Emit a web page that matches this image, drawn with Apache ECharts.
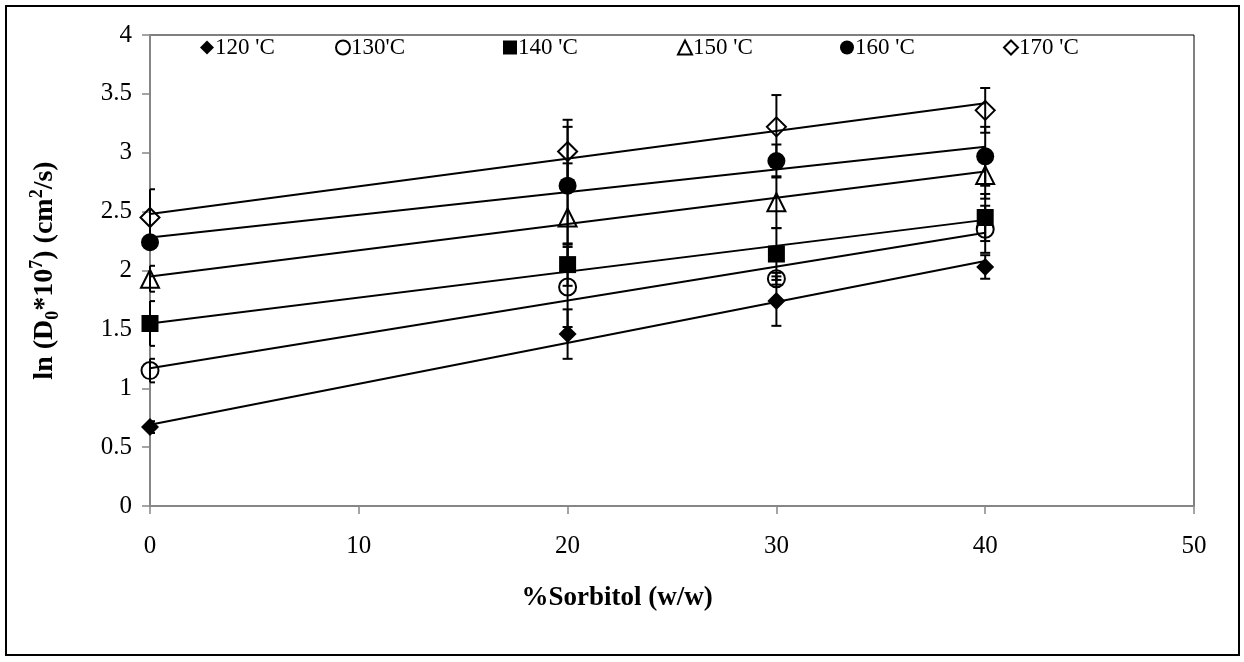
<!DOCTYPE html>
<html>
<head>
<meta charset="utf-8">
<script src="https://cdn.jsdelivr.net/npm/echarts/dist/echarts.min.js"></script>
<style>
	body{ margin:0; background:#fff; }
	#frame{ position:absolute; left:5px; top:5px; width:1231px; height:647px; border:2px solid #000; }
	#chart{ position:absolute; left:0; top:0; width:1244px; height:662px; }
</style>
</head>
<body>
<div id="frame"></div>
<div id="chart"></div>
<script>
	"use strict";
	var FONT = '"Liberation Serif", "Times New Roman", serif';

	// ---------------- data ----------------
	var xVals = [0, 20, 30, 40];
	var names = ["120 'C", "130'C", "140 'C", "150 'C", "160 'C", "170 'C"];

	var y120 = [0.67, 1.46, 1.74, 2.03];
	var y130 = [1.15, 1.86, 1.93, 2.35];
	var y140 = [1.55, 2.05, 2.14, 2.45];
	var y150 = [1.93, 2.45, 2.58, 2.81];
	var y160 = [2.24, 2.72, 2.93, 2.97];
	var y170 = [2.45, 3.01, 3.22, 3.36];

	// +/- error for each point
	var e120 = [0.05, 0.21, 0.21, 0.10];
	var e130 = [0.10, 0.34, 0.05, 0.20];
	var e140 = [0.19, 0.18, 0.22, 0.20];
	var e150 = [0.11, 0.46, 0.22, 0.20];
	var e160 = [0.05, 0.50, 0.14, 0.25];
	var e170 = [0.24, 0.27, 0.27, 0.19];

	// linear trend lines, value at x=0 and x=40
	var trendX = [0, 40];
	var t120 = [0.69, 2.08];
	var t130 = [1.17, 2.32];
	var t140 = [1.55, 2.43];
	var t150 = [1.95, 2.84];
	var t160 = [2.28, 3.05];
	var t170 = [2.48, 3.42];

	var xTicks = { min: 0, max: 50, interval: 10 };
	var yTicks = { min: 0, max: 4, interval: 0.5 };

	// ---------------- styles ----------------
	var allY = [y120, y130, y140, y150, y160, y170];
	var allE = [e120, e130, e140, e150, e160, e170];
	var allT = [t120, t130, t140, t150, t160, t170];
	var symbols = ['diamond', 'circle', 'rect', 'triangle', 'circle', 'diamond'];
	var sizes = [18, 17, 17, 18, 18, 19];
	var hollow = [false, true, false, true, false, true];
	var legendLeft = [195, 330, 498, 672, 835, 998];

	function zip(xs, ys){ return xs.map(function(x, i){ return [x, ys[i]]; }); }

	//误差线，左端裁到绘图区内
	function renderErr(params, api){
		var x = api.value(0), y = api.value(1), e = api.value(2);
		var hi = api.coord([x, y + e]), lo = api.coord([x, y - e]), w = 5;
		var left = Math.max(hi[0] - w, params.coordSys.x);
		var st = { stroke: '#000', lineWidth: 2 };
		return { type: 'group', children: [
			{ type: 'line', shape: { x1: hi[0], y1: hi[1], x2: lo[0], y2: lo[1] }, style: st },
			{ type: 'line', shape: { x1: left, y1: hi[1], x2: hi[0] + w, y2: hi[1] }, style: st },
			{ type: 'line', shape: { x1: left, y1: lo[1], x2: lo[0] + w, y2: lo[1] }, style: st }
		]};
	}

	var series = [];
	names.forEach(function(n, i){
		series.push({
			name: 'trend' + i, type: 'line', data: zip(trendX, allT[i]), showSymbol: false,
			lineStyle: { color: '#000', width: 2 }, silent: true, z: 2
		});
		series.push({
			name: 'err' + i, type: 'custom', renderItem: renderErr, z: 3,
			data: xVals.map(function(x, k){ return [x, allY[i][k], allE[i][k]]; })
		});
	});
	names.forEach(function(n, i){
		series.push({
			name: n, type: 'scatter', data: zip(xVals, allY[i]), z: 4,
			symbol: symbols[i], symbolSize: sizes[i],
			itemStyle: hollow[i]
				? { color: 'rgba(0,0,0,0)', borderColor: '#000', borderWidth: 2, opacity: 1 }
				: { color: '#000', borderColor: '#000', borderWidth: 0, opacity: 1 }
		});
	});

	var legends = names.map(function(n, i){
		return {
			data: [n], left: legendLeft[i], top: 31, itemWidth: 14, itemHeight: 14, itemGap: 2,
			selectedMode: false,
			textStyle: { fontFamily: FONT, fontSize: 23, color: '#000', padding: [0, 0, 0, -4] }
		};
	});

	var axisCommon = {
		type: 'value',
		axisLine: { lineStyle: { color: '#868686', width: 2 } },
		axisTick: { show: true, length: 8, lineStyle: { color: '#868686', width: 1.5 } },
		splitLine: { show: false },
		axisLabel: { fontFamily: FONT, fontSize: 25, color: '#000' },
		nameTextStyle: { fontFamily: FONT, fontSize: 27, fontWeight: 'bold', color: '#000' }
	};

	var option = {
		animation: false,
		grid: { left: 150, right: 50, top: 35, bottom: 156, show: true, borderColor: '#000', borderWidth: 1 },
		legend: legends,
		xAxis: echarts.util.merge({
			min: xTicks.min, max: xTicks.max, interval: xTicks.interval,
			name: '%Sorbitol (w/w)', nameLocation: 'middle', nameGap: 79,
			axisLabel: { margin: 28 },
			nameTextStyle: { padding: [0, 110, 0, 0] }
		}, axisCommon),
		yAxis: echarts.util.merge({
			min: yTicks.min, max: yTicks.max, interval: yTicks.interval,
			name: 'ln (D{sub|0}*10{sup|7}) (cm{sup|2}/s)', nameLocation: 'middle', nameGap: 88,
			axisLabel: { margin: 18 },
			nameTextStyle: {
				fontSize: 28, lineHeight: 34, padding: [0, 0, 0, 0],
				rich: {
					sub: { fontFamily: FONT, fontSize: 18, fontWeight: 'bold', verticalAlign: 'bottom', lineHeight: 34 },
					sup: { fontFamily: FONT, fontSize: 18, fontWeight: 'bold', verticalAlign: 'top', lineHeight: 34 }
				}
			}
		}, axisCommon),
		series: series
	};

	var chart = echarts.init(document.getElementById('chart'), null, { renderer: 'canvas' });
	chart.setOption(option);
</script>
</body>
</html>
